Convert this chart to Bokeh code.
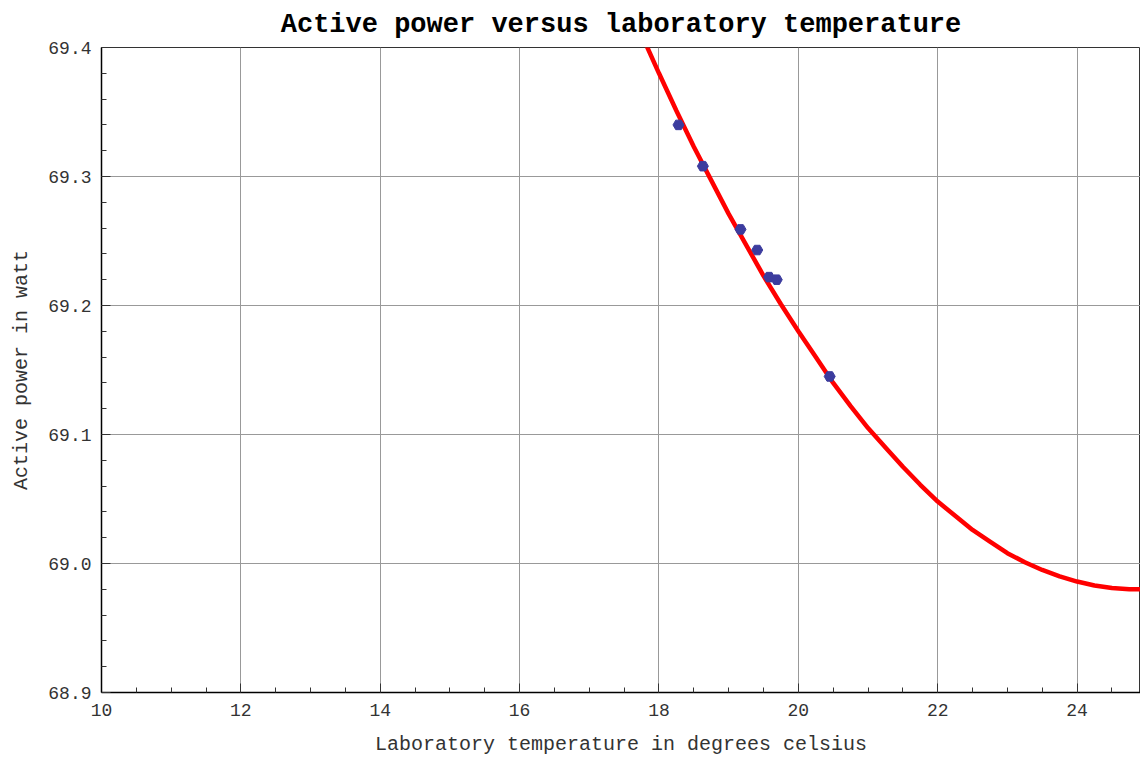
import numpy as np
from bokeh.plotting import figure
from bokeh.models import FixedTicker, PrintfTickFormatter, Range1d
from bokeh.embed import file_html
from bokeh.resources import INLINE

# measured data (laboratory temperature in degC, active power in W)
temp_c = [18.28, 18.63, 19.17, 19.41, 19.58, 19.69, 20.45]
power_w = [69.340, 69.308, 69.259, 69.243, 69.222, 69.220, 69.145]

# fitted curve
fit_temp = [17.8, 18.0, 18.25, 18.5, 18.75, 19.0, 19.25, 19.5, 19.75, 20.0,
            20.25, 20.5, 20.75, 21.0, 21.25, 21.5, 21.75, 22.0, 22.25, 22.5,
            22.75, 23.0, 23.25, 23.5, 23.75, 24.0, 24.25, 24.5, 24.75, 24.92]
fit_power = [69.404, 69.380, 69.351, 69.323, 69.297, 69.271, 69.247, 69.223,
             69.201, 69.180, 69.160, 69.140, 69.122, 69.105, 69.090, 69.075,
             69.061, 69.048, 69.037, 69.026, 69.017, 69.008, 69.001, 68.995,
             68.990, 68.986, 68.983, 68.981, 68.980, 68.980]

x_ticks = [10, 12, 14, 16, 18, 20, 22, 24]
y_ticks = [68.9, 69.0, 69.1, 69.2, 69.3, 69.4]

FONT = "Liberation Mono"

p = figure(width=1140, height=758,
           x_range=Range1d(10, 24.91), y_range=Range1d(68.9, 69.4),
           output_backend="svg", toolbar_location=None,
           min_border_left=101, min_border_right=0,
           min_border_top=45, min_border_bottom=64,
           x_axis_label="Laboratory temperature in degrees celsius",
           y_axis_label="Active power in watt")

p.outline_line_color = "#333333"
p.outline_line_width = 1
p.background_fill_color = "white"
p.border_fill_color = "white"

p.title.text = "Active power versus laboratory temperature"
p.title.text_font = FONT
p.title.text_font_style = "bold"
p.title.text_font_size = "27px"
p.title.text_line_height = 0.8
p.title.align = "center"
p.title.text_color = "black"
p.title.standoff = 15

xt = FixedTicker(ticks=x_ticks, minor_ticks=list(np.arange(10, 25.01, 0.5)))
yt = FixedTicker(ticks=y_ticks, minor_ticks=list(np.arange(68.9, 69.401, 0.02)))

for ax in (p.xaxis[0], p.yaxis[0]):
    ax.axis_line_color = "black"
    ax.axis_line_width = 1.5
    ax.major_tick_in = 9
    ax.major_tick_out = 0
    ax.minor_tick_in = 5
    ax.minor_tick_out = 0
    ax.major_tick_line_color = "#333333"
    ax.minor_tick_line_color = "#333333"
    ax.major_label_text_font = FONT
    ax.major_label_text_font_size = "18px"
    ax.major_label_text_color = "#333333"
    ax.axis_label_text_font = FONT
    ax.axis_label_text_font_size = "20px"
    ax.axis_label_text_font_style = "normal"
    ax.axis_label_text_color = "#333333"

p.xaxis[0].ticker = xt
p.yaxis[0].ticker = yt
p.xaxis[0].formatter = PrintfTickFormatter(format="%d")
p.yaxis[0].formatter = PrintfTickFormatter(format="%.1f")
p.xaxis[0].major_label_standoff = 11
p.xaxis[0].axis_label_standoff = 14
p.yaxis[0].major_label_standoff = 10
p.yaxis[0].axis_label_standoff = 12

p.xgrid.ticker = xt
p.ygrid.ticker = yt
p.xgrid.grid_line_color = "#999999"
p.ygrid.grid_line_color = "#999999"
p.xgrid.grid_line_width = 1
p.ygrid.grid_line_width = 1

p.line(fit_temp, fit_power, line_color="red", line_width=4.5)
p.scatter(temp_c, power_w, marker="hex", size=11,
          fill_color="#3c3c9e", line_color="#3c3c9e")

open("out.html", "w").write(file_html(p, INLINE))
